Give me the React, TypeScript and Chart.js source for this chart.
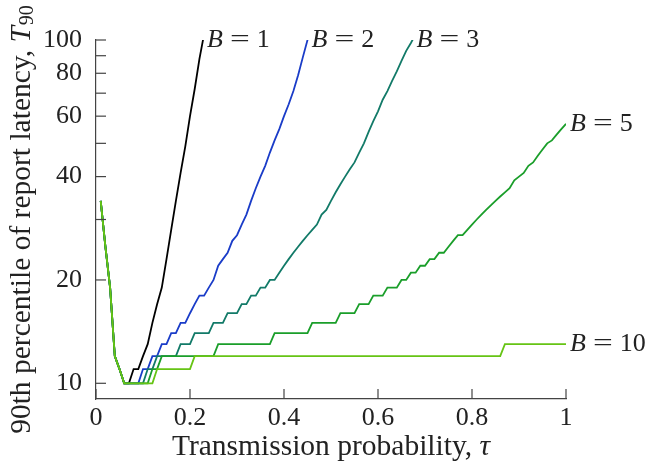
import React, { useEffect, useRef } from "react";
import { Chart, registerables } from "chart.js";

Chart.register(...registerables);

// sampling grid of the transmission probability (0.01 … 1.00)
const TAU = Array.from({ length: 100 }, (_, i) => (i + 1) / 100);

// 90th percentile latency T90 for each batch size B
const T_B1 = [34, 25, 19, 12, 11, 10, 10, 11, 11, 12, 13, 15, 17, 19, 23, 28, 34, 41, 49, 60, 72, 88, 104];

const T_B2 = [
  34, 25, 19, 12, 11, 10,
  10, 10, 10, 11, 11, 12, 12, 13, 13, 14, 14, 15, 15, 16,
  17, 18, 18, 19, 20, 22, 23, 24, 26, 27,
  29, 31, 34, 37, 40, 43, 47, 51, 55, 60,
  65, 71, 79, 89, 100, 110,
];

const T_B3 = [
  34, 25, 19, 12, 11, 10,
  10, 10, 10, 10,
  11, 11, 12, 12, 12, 12, 12, 13, 13, 13,
  14, 14, 14, 14, 15, 15, 15, 16, 16, 16,
  17, 17, 18, 18, 19, 19, 20, 20, 21, 22,
  23, 24, 25, 26, 27, 28, 29, 31, 32, 34,
  36, 38, 40, 42, 44, 47, 50, 54, 58, 62,
  67, 71, 76, 81, 87, 93, 98, 104,
];

const T_B5 = [
  34, 25, 19, 12, 11, 10,
  10, 10, 10, 10,
  10, 11, 11, 12, 12, 12, 12, 12, 12, 12,
  12, 12, 12, 12, 12, 13, 13, 13, 13, 13,
  13, 13, 13, 13, 13, 13, 13, 14, 14, 14,
  14, 14, 14, 14, 14, 15, 15, 15, 15, 15,
  15, 16, 16, 16, 16, 17, 17, 17, 18, 18,
  18, 19, 19, 19, 20, 20, 21, 21, 22, 22,
  23, 23, 24, 24, 25, 26, 27, 27, 28, 29,
  30, 31, 32, 33, 34, 35, 36, 37, 39, 40,
  41, 43, 44, 46, 48, 50, 51, 53, 55, 57,
];

const T_B10 = [
  34, 25, 19, 12, 11, 10,
  10, 10, 10, 10,
  10, 10, 11, 11, 11, 11, 11, 11, 11, 11,
  12, 12, 12, 12, 12, 12, 12, 12, 12, 12,
  12, 12, 12, 12, 12, 12, 12, 12, 12, 12,
  12, 12, 12, 12, 12, 12, 12, 12, 12, 12,
  12, 12, 12, 12, 12, 12, 12, 12, 12, 12,
  12, 12, 12, 12, 12, 12, 12, 12, 12, 12,
  12, 12, 12, 12, 12, 12, 12, 12, 12, 12,
  12, 12, 12, 12, 12, 12, 13, 13, 13, 13,
  13, 13, 13, 13, 13, 13, 13, 13, 13, 13,
];

const B_VALUES = [1, 2, 3, 5, 10];
const SERIES = [T_B1, T_B2, T_B3, T_B5, T_B10];
const COLORS = ["#000000", "#1a3cc8", "#127a68", "#1a9e2a", "#66c414"];

const Y_TICKS = [10, 20, 30, 40, 50, 60, 70, 80, 90, 100];
const Y_LABELED = [10, 20, 40, 60, 80, 100];
const X_TICKS = [0, 0.2, 0.4, 0.6, 0.8, 1];

const X_TITLE = "Transmission probability, ";
const X_TITLE_SYM = "τ";
const Y_TITLE = "90th percentile of report latency, ";
const Y_TITLE_SYM = "T";
const Y_TITLE_SUB = "90";

const FONT = '"Liberation Serif", "Times New Roman", serif';
const TEXT_COLOR = "#222";
const AXIS_COLOR = "#444";
const TITLE_SIZE = 29.5;

const decorPlugin = {
  id: "decor",
  afterDraw(chart: any) {
    const { ctx, chartArea, scales } = chart;
    const xs = scales.x;
    const ys = scales.y;
    ctx.save();

    // inward ticks
    ctx.strokeStyle = AXIS_COLOR;
    ctx.lineWidth = 1.2;
    Y_TICKS.forEach((v) => {
      const y = ys.getPixelForValue(v);
      ctx.beginPath();
      ctx.moveTo(chartArea.left, y);
      ctx.lineTo(chartArea.left + 10, y);
      ctx.stroke();
    });
    X_TICKS.forEach((v) => {
      const x = xs.getPixelForValue(v);
      ctx.beginPath();
      ctx.moveTo(x, chartArea.bottom);
      ctx.lineTo(x, chartArea.bottom - 10);
      ctx.stroke();
    });

    // series labels at the line ends
    ctx.fillStyle = TEXT_COLOR;
    ctx.textBaseline = "middle";
    ctx.textAlign = "left";
    chart.data.datasets.forEach((ds: any, i: number) => {
      const pts = chart.getDatasetMeta(i).data;
      let px: number, py: number;
      const k = pts.findIndex((p: any) => p.y < chartArea.top - 0.01);
      if (k > 0) {
        const a = pts[k - 1];
        const b = pts[k];
        const t = (chartArea.top - a.y) / (b.y - a.y);
        px = a.x + t * (b.x - a.x);
        py = chartArea.top;
      } else {
        const l = pts[pts.length - 1];
        px = l.x;
        py = l.y;
      }
      let x = px + 4;
      ctx.font = `italic 26px ${FONT}`;
      ctx.fillText("B", x, py);
      x += ctx.measureText("B").width + 7;
      ctx.font = `26px ${FONT}`;
      const eqW = ctx.measureText("=").width;
      ctx.save();
      ctx.translate(x, py);
      ctx.scale(1.35, 1);
      ctx.fillText("=", 0, 0);
      ctx.restore();
      x += eqW * 1.35 + 7;
      ctx.fillText(String(ds.bValue), x, py);
    });

    // x title
    ctx.font = `${TITLE_SIZE}px ${FONT}`;
    const w1 = ctx.measureText(X_TITLE).width;
    ctx.font = `italic ${TITLE_SIZE}px ${FONT}`;
    const w2 = ctx.measureText(X_TITLE_SYM).width;
    const cx = (chartArea.left + chartArea.right) / 2;
    const x0 = cx - (w1 + w2) / 2;
    const ty = 447;
    ctx.font = `${TITLE_SIZE}px ${FONT}`;
    ctx.fillText(X_TITLE, x0, ty);
    ctx.font = `italic ${TITLE_SIZE}px ${FONT}`;
    ctx.fillText(X_TITLE_SYM, x0 + w1, ty);

    // y title (rotated)
    ctx.font = `${TITLE_SIZE}px ${FONT}`;
    const m1 = ctx.measureText(Y_TITLE).width;
    ctx.font = `italic ${TITLE_SIZE}px ${FONT}`;
    const m2 = ctx.measureText(Y_TITLE_SYM).width;
    ctx.font = `20px ${FONT}`;
    const m3 = ctx.measureText(Y_TITLE_SUB).width;
    const total = m1 + m2 + 1 + m3;
    const cy = (chartArea.top + chartArea.bottom) / 2;
    ctx.translate(22, cy);
    ctx.rotate(-Math.PI / 2);
    let s = -total / 2;
    ctx.font = `${TITLE_SIZE}px ${FONT}`;
    ctx.fillText(Y_TITLE, s, 0);
    s += m1;
    ctx.font = `italic ${TITLE_SIZE}px ${FONT}`;
    ctx.fillText(Y_TITLE_SYM, s, 0);
    s += m2 + 1;
    ctx.font = `20px ${FONT}`;
    ctx.fillText(Y_TITLE_SUB, s, 6);

    ctx.restore();
  },
};

export default function App() {
  const canvasRef = useRef<HTMLCanvasElement | null>(null);

  useEffect(() => {
    if (!canvasRef.current) return;
    const datasets = SERIES.map((vals, i) => ({
      label: `B = ${B_VALUES[i]}`,
      bValue: B_VALUES[i],
      data: vals.map((v, j) => ({ x: TAU[j], y: v })),
      borderColor: COLORS[i],
      backgroundColor: COLORS[i],
      borderWidth: 1.8,
      pointRadius: 0,
      tension: 0,
      fill: false,
      order: SERIES.length - i,
    }));

    const chart = new Chart(canvasRef.current, {
      type: "line",
      data: { datasets } as any,
      options: {
        animation: false,
        responsive: false,
        devicePixelRatio: 1,
        layout: { padding: { top: 40, right: 90, left: 0, bottom: 0 } },
        plugins: { legend: { display: false }, tooltip: { enabled: false }, title: { display: false } },
        scales: {
          x: {
            type: "linear",
            min: 0,
            max: 1,
            afterBuildTicks: (s: any) => {
              s.ticks = X_TICKS.map((v) => ({ value: v }));
            },
            afterFit: (s: any) => {
              s.height = 65;
            },
            grid: { display: false, drawTicks: false },
            border: { display: true, color: AXIS_COLOR, width: 1.2 },
            ticks: {
              autoSkip: false,
              maxRotation: 0,
              padding: 4,
              color: TEXT_COLOR,
              font: { family: FONT, size: 26 },
              callback: (v: any) => String(v),
            },
          },
          y: {
            type: "logarithmic",
            min: 9,
            max: 100,
            afterBuildTicks: (s: any) => {
              s.ticks = Y_TICKS.map((v) => ({ value: v }));
            },
            afterFit: (s: any) => {
              s.width = 96;
            },
            grid: { display: false, drawTicks: false },
            border: { display: true, color: AXIS_COLOR, width: 1.2 },
            ticks: {
              autoSkip: false,
              padding: 14,
              color: TEXT_COLOR,
              font: { family: FONT, size: 26 },
              callback: (v: any) => (Y_LABELED.includes(Number(v)) ? String(v) : ""),
            },
          },
        },
      } as any,
      plugins: [decorPlugin],
    });
    return () => chart.destroy();
  }, []);

  return (
    <div style={{ position: "fixed", left: 0, top: 0, width: 656, height: 464, background: "#fff" }}>
      <canvas ref={canvasRef} width={656} height={464} />
    </div>
  );
}
